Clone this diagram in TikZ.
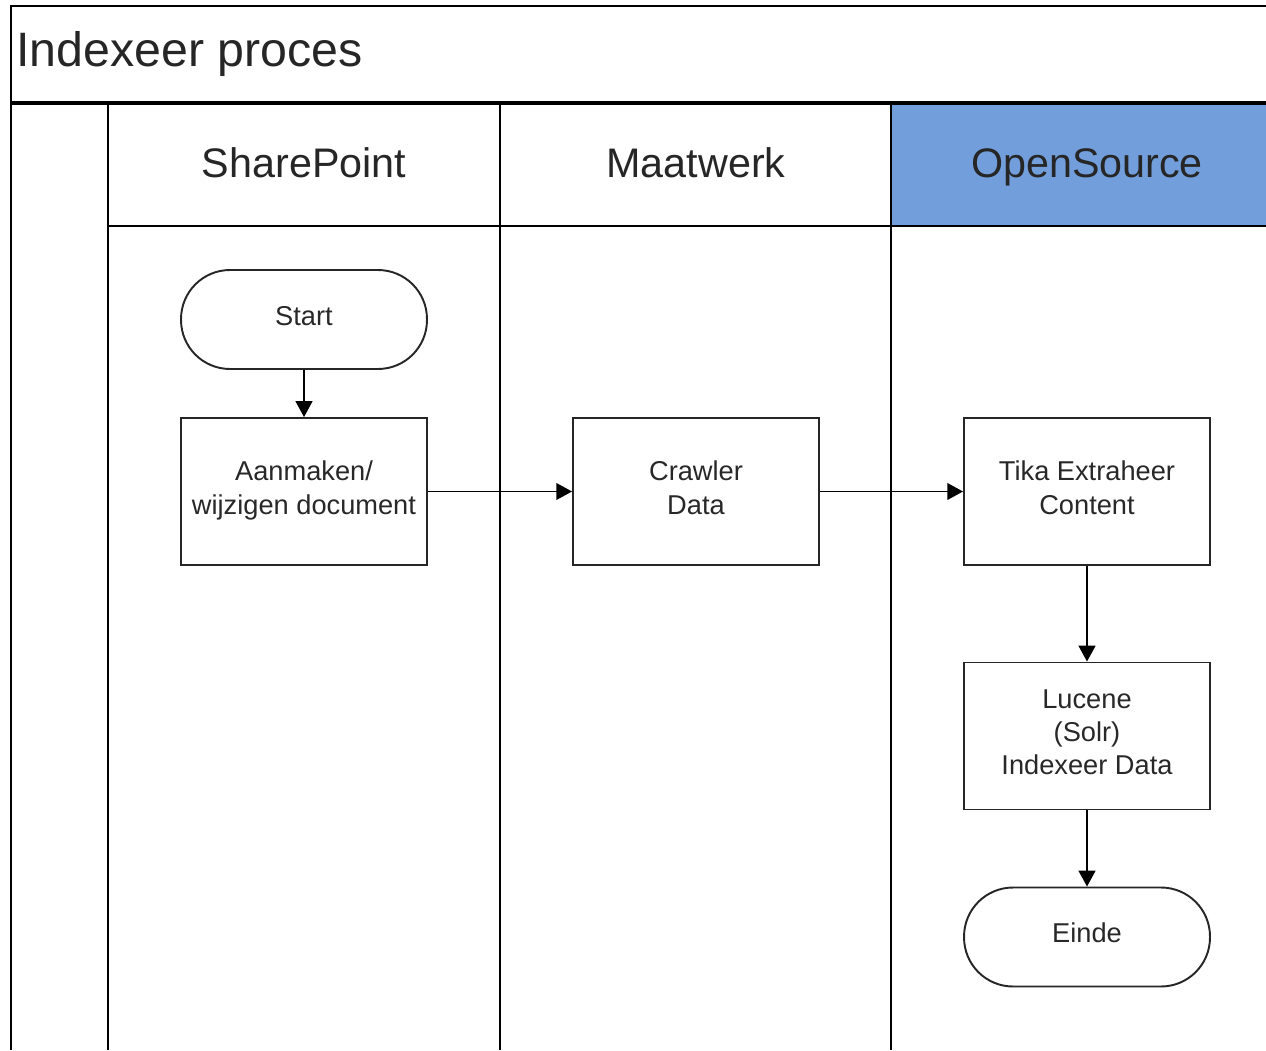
\documentclass[tikz,border=0pt]{standalone}
\usepackage{fontspec}
\setmainfont{Liberation Sans}
\usetikzlibrary{arrows.meta}
\definecolor{laneblue}{RGB}{114,159,219}
\definecolor{txtgray}{RGB}{40,40,40}
\newcommand\lnstrut{\rule[-4.5pt]{0pt}{11pt}}
\begin{document}
\begin{tikzpicture}[x=0.02cm,y=-0.02cm,
  frame/.style={line width=1.2pt,draw=black},
  thickframe/.style={line width=1.8pt,draw=black},
  proc/.style={draw=black!85,line width=1.1pt,minimum width=4.92cm,minimum height=2.94cm,
    align=center,text=txtgray,font=\fontsize{15.5}{19}\selectfont,inner sep=0pt},
  term/.style={draw=black!85,line width=1.1pt,minimum width=4.92cm,minimum height=1.98cm,
    rounded corners=0.98cm,align=center,text=txtgray,font=\fontsize{15.5}{19}\selectfont,inner sep=0pt},
  lanehead/.style={font=\fontsize{23.5}{28}\selectfont,text=black!85,text height=17pt,text depth=5pt,inner sep=0pt},
  flow/.style={line width=1.1pt,-{Triangle[length=9pt,width=9.5pt]}}]
\useasboundingbox (0,0) rectangle (1266,1050);
% blue header
\fill[laneblue] (891,103) rectangle (1266,226);
% frame
\draw[frame] (11,1050) -- (11,6) -- (1266,6);
\draw[thickframe] (11,103) -- (1266,103);
\draw[frame] (108,226) -- (1266,226);
\draw[frame] (108,103) -- (108,1050);
\draw[frame] (500,103) -- (500,1050);
\draw[frame] (891,103) -- (891,1050);
% title and lane headers
\node[anchor=west,font=\fontsize{27.5}{33}\selectfont,text=black!85,inner sep=0pt] (title) at (16,54) {Indexeer proces};
\node[lanehead] (h1) at (304,167) {SharePoint};
\node[lanehead] (h2) at (696,167) {Maatwerk};
\node[lanehead] (h3) at (1087,167) {OpenSource};
% nodes
\node[term] (start) at (304,319.5) {\lnstrut Start};
\node[proc] (aan) at (304,491.5) {\lnstrut Aanmaken/\\\lnstrut wijzigen document};
\node[proc] (crawl) at (696,491.5) {\lnstrut Crawler\\\lnstrut Data};
\node[proc] (tika) at (1087,491.5) {\lnstrut Tika Extraheer\\\lnstrut Content};
\node[proc] (luc) at (1087,736) {\lnstrut Lucene\\\lnstrut (Solr)\\\lnstrut Indexeer Data};
\node[term] (einde) at (1087,937) {\lnstrut Einde};
% connectors
\draw[flow] (start) -- (aan);
\draw[flow] (aan) -- (crawl);
\draw[flow] (crawl) -- (tika);
\draw[flow] (tika) -- (luc);
\draw[flow] (luc) -- (einde);
\end{tikzpicture}
\end{document}
